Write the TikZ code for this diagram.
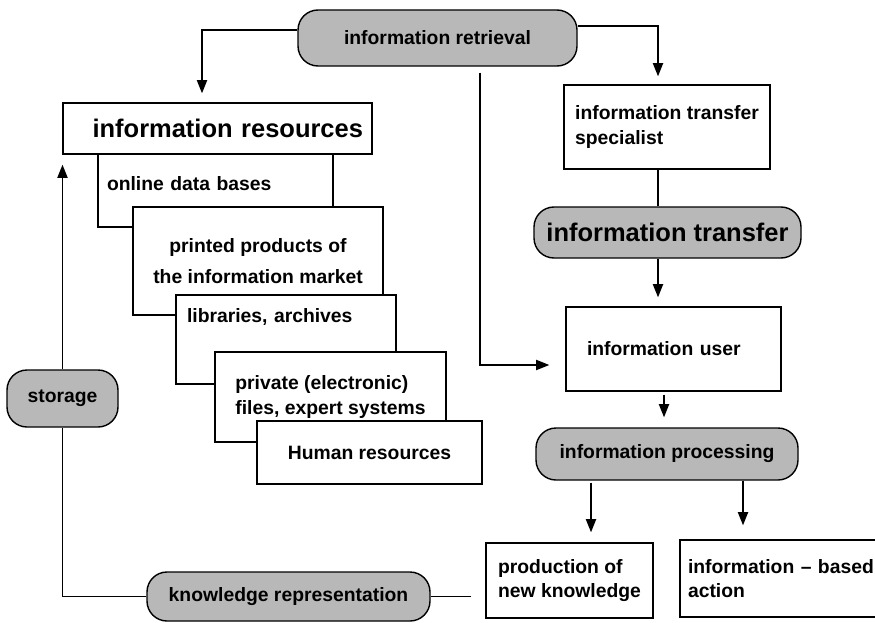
\documentclass[tikz,border=0pt]{standalone}
\usepackage{fontspec}
\setmainfont{Liberation Sans}
\usetikzlibrary{positioning,arrows.meta,calc}

\begin{document}
\begin{tikzpicture}[x=1cm,y=1cm,
   txt/.style={font=\fontsize{11}{14}\selectfont\bfseries},
   big/.style={font=\fontsize{14.5}{17}\selectfont\bfseries},
   box/.style={draw,fill=white,line width=0.8pt,inner sep=0pt},
   pill/.style={draw,fill=black!28,line width=0.8pt,rounded corners=0.4cm,inner sep=0pt},
   ln/.style={line width=0.8pt},
   arr/.style={ln,-{Triangle[length=7.5pt,width=5.8pt]}}]
\useasboundingbox (0,0) rectangle (17.5,-12.44);
%% ---- stacked resource boxes (each one covers the one before) ----
\node[box,txt,align=left,text width=4.34cm,inner xsep=0.18cm,minimum height=1.74cm] (onl) at (4.31,-3.67) {online data bases};
\node[box,big,align=right,text width=5.82cm,inner xsep=0.18cm,minimum height=1.02cm] (res) at (4.35,-2.57) {information resources};
\node[box,txt,align=center,minimum width=5.0cm,minimum height=2.16cm] (prt) at (5.16,-5.22) {printed products of\\[4pt]the information market};
\node[box,txt,align=left,text width=3.96cm,inner xsep=0.22cm,text height=0.54cm,text depth=1.24cm] (lib) at (5.72,-6.79) {libraries, archives};
\node[box,txt,align=left,minimum width=4.62cm,minimum height=1.8cm] (prv) at (6.61,-7.94) {private (electronic)\\files, expert systems};
\node[box,txt,minimum width=4.5cm,minimum height=1.26cm] (hum) at (7.39,-9.05) {Human resources};
%% ---- retrieval and the user side ----
\node[pill,txt,minimum width=5.58cm,minimum height=1.12cm] (ir) at (8.75,-0.76) {information retrieval};
\node[box,txt,align=left,minimum width=4.12cm,minimum height=1.68cm] (sp) at (13.34,-2.54) {information transfer\\specialist};
\node[pill,big,minimum width=5.34cm,minimum height=1.02cm] (itf) at (13.35,-4.65) {information transfer};
\node[box,txt,align=left,text width=3.46cm,inner xsep=0.42cm,minimum height=1.68cm] (usr) at (13.47,-6.98) {information user};
\node[pill,txt,minimum width=5.24cm,minimum height=1.04cm] (proc) at (13.34,-9.08) {information processing};
\node[box,txt,align=left,minimum width=3.34cm,minimum height=1.5cm] (prod) at (11.39,-11.61) {production of\\new knowledge};
\node[box,txt,align=left,text width=3.8cm,inner xsep=0.16cm,minimum height=1.54cm] (act) at (15.66,-11.57) {information~--~based\\action};
%% ---- feedback loop ----
\node[pill,txt,minimum width=2.22cm,minimum height=1.14cm] (stor) at (1.25,-7.97) {storage};
\node[pill,txt,minimum width=5.66cm,minimum height=0.98cm] (kr) at (5.77,-11.93) {knowledge representation};
%% ---- connectors ----
\draw[arr,shorten >=0.18cm] ([yshift=0.16cm]ir.west) -| ([xshift=-0.31cm]res.north);
\draw[arr,shorten >=0.16cm] ([yshift=0.24cm]ir.east) -| ([xshift=-0.18cm]sp.north);
\draw[arr,shorten <=0.12cm,shorten >=0.32cm] ([xshift=0.85cm]ir.south) |- ([yshift=-0.32cm]usr.west);
\draw[ln] ([xshift=-0.18cm]sp.south) coordinate (sp1) -- (sp1 |- itf.north);
\draw[arr,shorten >=0.18cm] ([xshift=-0.19cm]itf.south) coordinate (itf1) -- (itf1 |- usr.north);
\draw[arr,shorten <=0.06cm,shorten >=0.2cm] ([xshift=-0.19cm]usr.south) coordinate (usr1) -- (usr1 |- proc.north);
\draw[arr,shorten <=0.04cm,shorten >=0.2cm] ([xshift=-1.52cm]proc.south) coordinate (pr1) -- (pr1 |- prod.north);
\draw[arr,shorten >=0.28cm] ([xshift=1.52cm]proc.south) coordinate (pr2) -- (pr2 |- act.north);
\draw[ln,shorten >=0.28cm] (kr.east) -- (kr.east -| prod.west);
\draw[ln] (kr.west) -| (stor.south);
\draw[arr,shorten >=0.2cm] (stor.north) -- (stor.north |- res.south);
\end{tikzpicture}
\end{document}
